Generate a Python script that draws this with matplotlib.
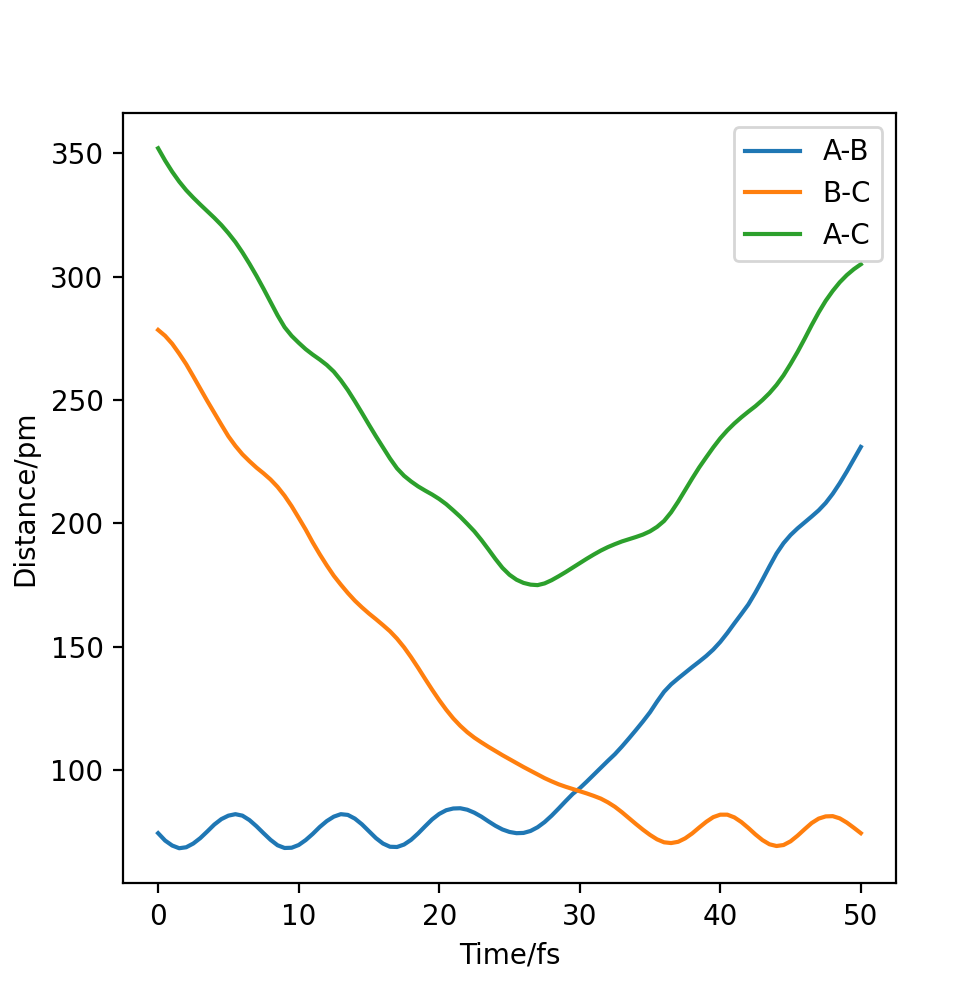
import numpy as np
import matplotlib
matplotlib.use('Agg')
import matplotlib.pyplot as plt

# time in fs (0.5 fs steps), distances in pm
time_fs = np.arange(0, 50.5, 0.5)

ab_dist = [74.5, 71.5, 69.5, 68.4, 68.8, 70.3, 72.5, 75.2, 78, 80.2,      # 0 - 4.5
           81.6, 82.2, 81.6, 79.8, 77.3, 74.5, 71.8, 69.6, 68.5, 68.6,    # 5 - 9.5
           69.7, 71.7, 74.2, 77, 79.4, 81.2, 82.2, 81.9, 80.4, 78.1,      # 10 - 14.5
           75.3, 72.5, 70.3, 69, 68.9, 69.9, 71.8, 74.4, 77.3, 80.1,      # 15 - 19.5
           82.3, 83.8, 84.5, 84.6, 84, 82.8, 81.2, 79.3, 77.5, 76,        # 20 - 24.5
           75, 74.5, 74.6, 75.4, 76.9, 79, 81.6, 84.5, 87.5, 90.4,        # 25 - 29.5
           92.7, 95.4, 98.2, 101, 103.8, 106.5, 109.6, 112.9, 116.3, 119.8,  # 30 - 34.5
           123.5, 127.8, 131.8, 134.8, 137.2, 139.5, 141.8, 144, 146.3, 148.9,  # 35 - 39.5
           152, 155.6, 159.5, 163.3, 167.2, 172, 177.2, 182.6, 187.8, 192,  # 40 - 44.5
           195.3, 198, 200.4, 202.8, 205.3, 208.3, 212, 216.3, 221, 226,  # 45 - 49.5
           231]

bc_dist = [278.4, 276, 272.8, 268.8, 264.5, 259.6, 254.6, 249.6, 244.8, 240,
           235.3, 231.4, 228, 225.2, 222.6, 220.3, 217.8, 214.8, 211.2, 207,
           202.3, 197.5, 192.3, 187.5, 183, 178.8, 175.2, 171.8, 168.7, 166,
           163.5, 161.2, 158.8, 156.3, 153.3, 149.8, 145.8, 141.5, 137, 132.6,
           128.4, 124.5, 121, 118, 115.4, 113.2, 111.3, 109.5, 107.8, 106.1,
           104.5, 102.9, 101.3, 99.8, 98.3, 96.8, 95.5, 94.3, 93.3, 92.4,
           91.5, 90.6, 89.6, 88.5, 87, 85.2, 83, 80.6, 78.2, 75.9,
           73.8, 72, 70.8, 70.5, 71, 72.4, 74.4, 76.8, 79.1, 81,
           82, 82, 80.9, 79, 76.6, 74, 71.7, 70, 69.3, 69.7,
           71.2, 73.5, 76.1, 78.6, 80.4, 81.3, 81.4, 80.5, 78.8, 76.7,
           74.5]

ac_dist = [352, 347, 342.5, 338.5, 335, 332, 329.2, 326.5, 323.8, 320.9,
           317.6, 314, 309.8, 305.2, 300.3, 295.1, 289.7, 284.3, 279.5, 276,
           273.2, 270.6, 268.4, 266.4, 264.2, 261.5, 258, 254, 249.5, 244.8,
           240, 235.3, 230.8, 226.3, 222.3, 219.3, 217, 215, 213.3, 211.7,
           209.9, 207.8, 205.3, 202.7, 199.8, 196.8, 193.3, 189.5, 185.6, 182,
           179.2, 177.2, 175.9, 175.2, 175, 175.7, 177, 178.6, 180.3, 182.1,
           183.9, 185.7, 187.4, 189, 190.4, 191.6, 192.7, 193.6, 194.5, 195.5,
           196.8, 198.6, 201, 204.5, 208.8, 213.5, 218.2, 222.7, 226.8, 230.8,
           234.5, 237.7, 240.5, 243, 245.3, 247.5, 250, 252.8, 256.1, 260,
           264.6, 269.5, 274.8, 280.3, 285.5, 290.2, 294.2, 297.7, 300.6, 303,
           305]

labels = ['A-B', 'B-C', 'A-C']

fig = plt.figure(figsize=(4.88, 4.99), dpi=200)
ax = fig.add_axes([0.126, 0.115, 0.792, 0.7715])

ax.plot(time_fs, ab_dist, label=labels[0])
ax.plot(time_fs, bc_dist, label=labels[1])
ax.plot(time_fs, ac_dist, label=labels[2])

ax.set_xlabel('Time/fs')
ax.set_ylabel('Distance/pm')
ax.legend(loc='upper right')

fig.savefig('out.png', dpi=200)
